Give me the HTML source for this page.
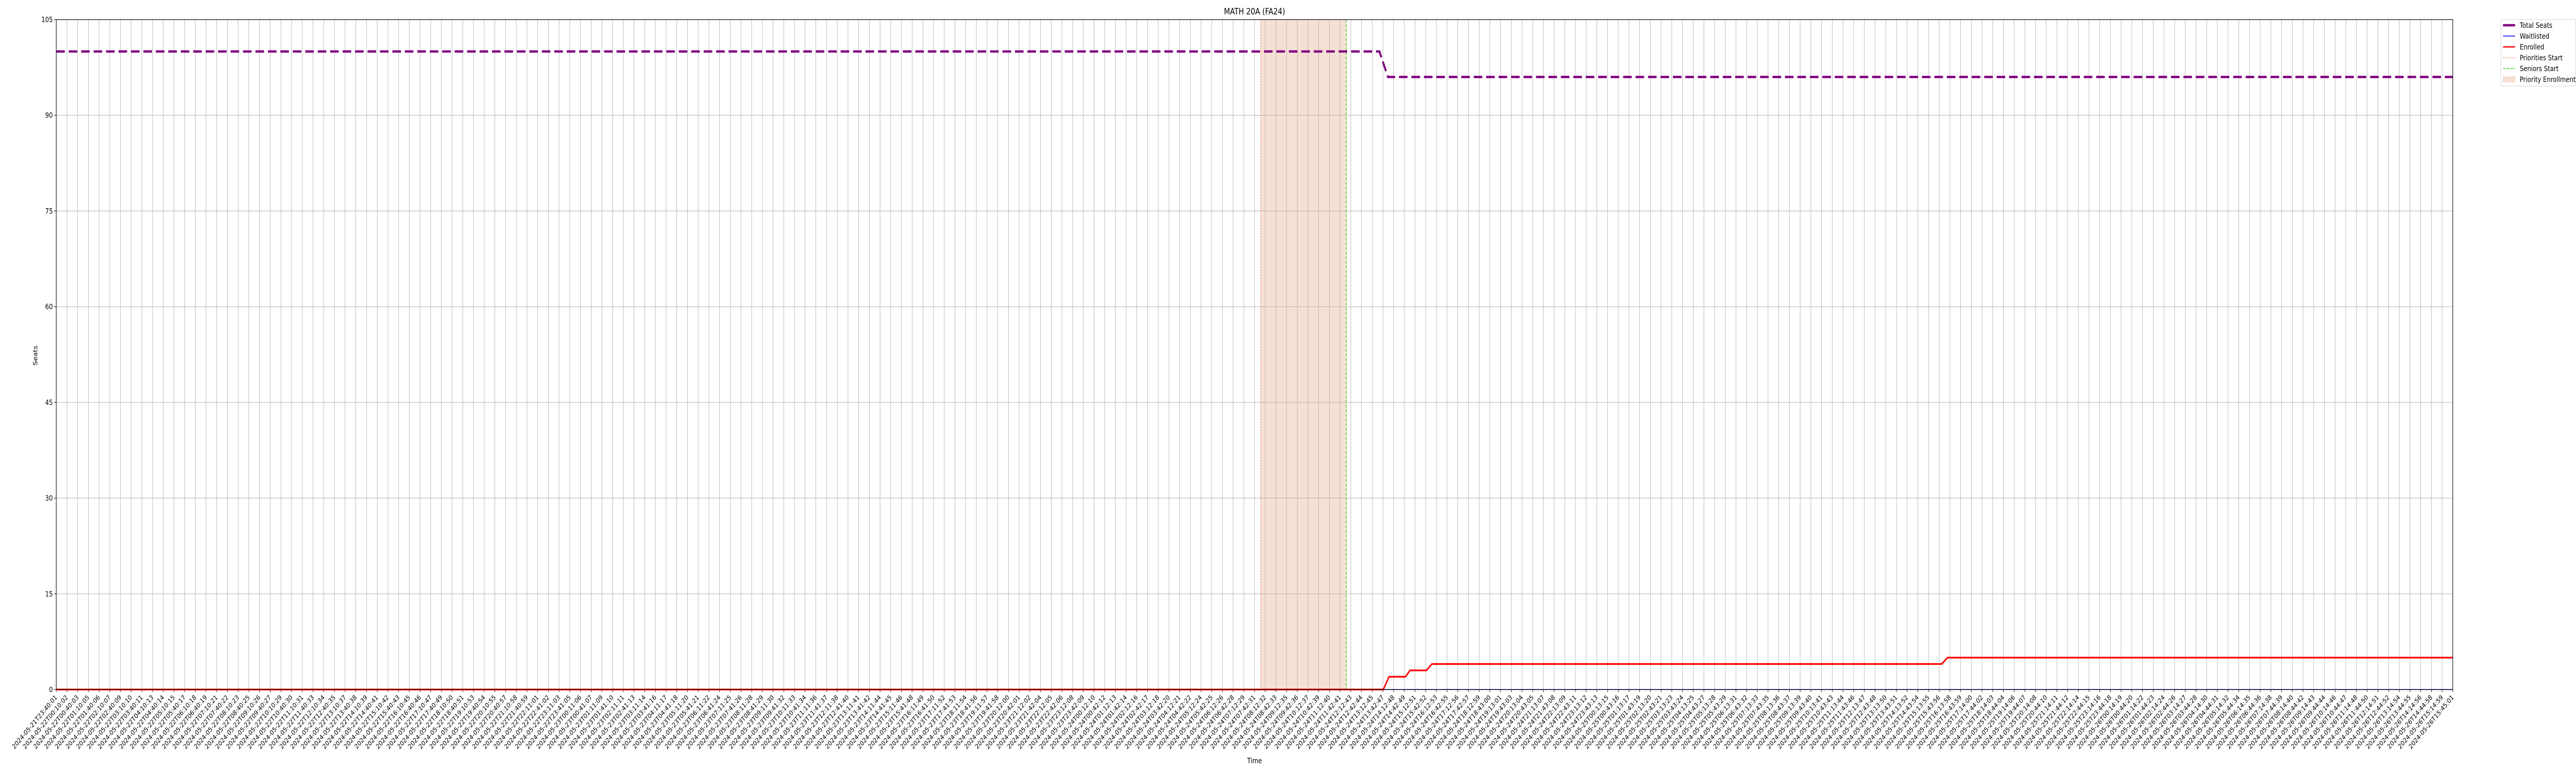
<!DOCTYPE html>
<html>
<head>
<meta charset="utf-8">
<meta name="viewport" content="width=6000, initial-scale=1">
<style>
html,body{margin:0;padding:0;background:#fff;width:100%;height:100%;overflow:hidden;}
body{font-family:"Liberation Sans","DejaVu Sans",sans-serif;}
#chart{position:fixed;left:0;top:0;width:100vw;height:100vh;display:block;overflow:hidden;}
svg text{font-family:"DejaVu Sans","Liberation Sans",sans-serif;fill:#000;}
</style>
</head>
<body>
<svg id="chart" viewBox="0 0 6000 1500" preserveAspectRatio="none" xmlns="http://www.w3.org/2000/svg"></svg>
<script>
// ---- data ----
const startTime = "2024-05-21T23:40:01";
const endTime = "2024-05-26T15:45:01";
const yTicks = [0, 15, 30, 45, 60, 75, 90, 105];
const totalSeatsTimes = ["2024-05-21T23:40:01", "2024-05-24T13:33:00", "2024-05-24T13:57:00", "2024-05-26T15:45:01"];
const totalSeatsValues = [100, 100, 96, 96];
const enrolledTimes = ["2024-05-21T23:40:01", "2024-05-24T13:44:00", "2024-05-24T14:00:00", "2024-05-24T14:46:00", "2024-05-24T14:59:00", "2024-05-24T15:45:00", "2024-05-24T16:00:00", "2024-05-25T15:51:00", "2024-05-25T16:07:00", "2024-05-26T15:45:01"];
const enrolledValues = [0, 0, 2, 2, 3, 3, 4, 4, 5, 5];
const waitlistTimes = ["2024-05-21T23:40:01", "2024-05-26T15:45:01"];
const waitlistValues = [0, 0];
const prioritiesStart = "2024-05-24T08:00:00";
const seniorsStart = "2024-05-24T12:00:00";
const tickCount = 225;

// ---- layout ----
const L = 131, R = 5713, T = 38, B = 1338;
const NS = "http://www.w3.org/2000/svg";
const svg = document.getElementById("chart");
function ms(s){ return Date.parse(s + "Z"); }
const t0 = ms(startTime), t1 = ms(endTime);
function xs(s){ return L + (ms(s) - t0) / (t1 - t0) * (R - L); }
function xms(m){ return L + (m - t0) / (t1 - t0) * (R - L); }
function ys(v){ return B - v / 105 * (B - T); }
function mk(tag, attrs, parent){
  const e = document.createElementNS(NS, tag);
  for (const k in attrs) e.setAttribute(k, attrs[k]);
  (parent || svg).appendChild(e);
  return e;
}
function pad(n){ return String(n).padStart(2, "0"); }
function fmt(m){ const d = new Date(m); return d.getUTCFullYear()+"-"+pad(d.getUTCMonth()+1)+"-"+pad(d.getUTCDate())+"T"+pad(d.getUTCHours())+":"+pad(d.getUTCMinutes())+":"+pad(d.getUTCSeconds()); }

// shaded priority span
const span = mk("rect", {x: xs(prioritiesStart), y: T, width: xs(seniorsStart) - xs(prioritiesStart), height: B - T, fill: "#f6e0d5"});



// grid + x ticks
const gridG = mk("g", {});


const xTickG = mk("g", {});


for (let i = 0; i < tickCount; i++) {
  const m = t0 + (t1 - t0) * i / (tickCount - 1);
  const x = xms(m);
  mk("line", {x1: x, x2: x, y1: T, y2: B, stroke: "#b0b0b0", "stroke-width": 1}, gridG);
  mk("line", {x1: x, x2: x, y1: B, y2: B + 5, stroke: "#000", "stroke-width": 1}, xTickG);
  const tx = mk("text", {x: 0, y: 0, "font-size": 13, "text-anchor": "end", transform: "translate(" + (x + 3) + "," + (B + 16) + ") rotate(-45)"}, xTickG);
  
  
  tx.textContent = fmt(m);
}
const yTickG = mk("g", {});


yTicks.forEach(v => {
  const y = ys(v);
  mk("line", {x1: L, x2: R, y1: y, y2: y, stroke: "#b0b0b0", "stroke-width": 1}, gridG);
  mk("line", {x1: L - 5, x2: L, y1: y, y2: y, stroke: "#000", "stroke-width": 1}, yTickG);
  const t = mk("text", {x: L - 8, y: y + 5, "font-size": 14, "text-anchor": "end"}, yTickG);
  
  
  t.textContent = v;
});

// vertical markers
const pl = mk("line", {x1: xs(prioritiesStart), x2: xs(prioritiesStart), y1: T, y2: B, stroke: "#f07030", "stroke-width": 1.5, "stroke-dasharray": "2 3"});


const sl = mk("line", {x1: xs(seniorsStart), x2: xs(seniorsStart), y1: T, y2: B, stroke: "#33cc11", "stroke-width": 1.5, "stroke-dasharray": "6 3"});



function pts(times, vals){ return times.map((t, i) => xs(t).toFixed(2) + "," + ys(vals[i]).toFixed(2)).join(" "); }
const wl = mk("polyline", {points: pts(waitlistTimes, waitlistValues), fill: "none", stroke: "#0000ff", "stroke-width": 1.5});


const en = mk("polyline", {points: pts(enrolledTimes, enrolledValues), fill: "none", stroke: "#ff0000", "stroke-width": 3.2});


const ts = mk("polyline", {points: pts(totalSeatsTimes, totalSeatsValues), fill: "none", stroke: "#800080", "stroke-width": 4.5, "stroke-dasharray": "20 9"});



// frame
const fr = mk("rect", {x: L, y: T, width: R - L, height: B - T, fill: "none", stroke: "#000", "stroke-width": 1.2});



// titles
const title = mk("text", {x: (L + R) / 2, y: 28, "font-size": 16.5, "text-anchor": "middle"});


title.textContent = "MATH 20A (FA24)";
const xl = mk("text", {x: (L + R) / 2, y: 1481, "font-size": 14, "text-anchor": "middle"});


xl.textContent = "Time";
const yl = mk("text", {x: 0, y: 0, "font-size": 14, "text-anchor": "middle", transform: "translate(87,690) rotate(-90)"});


yl.textContent = "Seats";

// legend
const lg = mk("g", {});


mk("rect", {x: 5825, y: 38, width: 174, height: 129, rx: 3, fill: "#fff", stroke: "#d0d0d0", "stroke-width": 1}, lg);
const legendEntries = [
  ["Total Seats", "#800080", 4.5, ""],
  ["Waitlisted", "#0000ff", 1.5, ""],
  ["Enrolled", "#ff0000", 2.5, ""],
  ["Priorities Start", "#f07030", 1.5, "2 3"],
  ["Seniors Start", "#33cc11", 1.5, "6 3"],
  ["Priority Enrollment", null, 0, ""]
];
legendEntries.forEach((e, i) => {
  const y = 49 + i * 21;
  const g = mk("g", {}, lg);
  
  
  if (e[1]) {
    const a = {x1: 5830, x2: 5858, y1: y, y2: y, stroke: e[1], "stroke-width": e[2]};
    if (e[3]) a["stroke-dasharray"] = e[3];
    mk("line", a, g);
  } else {
    mk("rect", {x: 5830, y: y - 5, width: 28, height: 10, fill: "#f6e0d5", stroke: "#f3d2c3"}, g);
  }
  const t = mk("text", {x: 5869, y: y + 5, "font-size": 14}, g);
  t.textContent = e[0];
});
</script>
</body>
</html>
